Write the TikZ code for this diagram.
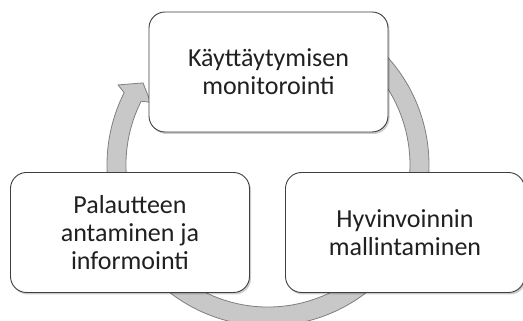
\documentclass[tikz,border=0pt]{standalone}
\usepackage{fontspec}
\setmainfont{Carlito}
\usetikzlibrary{shadows}
\definecolor{ringfill}{HTML}{C8C8C8}
\definecolor{ringline}{HTML}{7F7F7F}
\definecolor{boxline}{HTML}{3F3F3F}
\definecolor{labeltext}{HTML}{202020}
\begin{document}
\begin{tikzpicture}[x=1pt,y=1pt,
  stagebox/.style={draw=boxline, line width=0.9pt, fill=white, rounded corners=16pt,
    minimum width=239pt, minimum height=120pt, align=center, inner sep=0pt,
    text=labeltext, font=\fontsize{26}{28}\selectfont,
    drop shadow={shadow xshift=1.5pt, shadow yshift=-2pt, opacity=0.2, fill=black}},
  ring/.style={fill=ringfill, draw=ringline, line width=0.8pt, line join=miter}]
\useasboundingbox (0,0) rectangle (523,321);

% circular arrow running clockwise behind the three stages
\begin{scope}[shift={(268,156)}]
  \path[ring]
    (50:161) arc[start angle=50, end angle=-206.7, radius=161]
    -- (151.9:170) -- (146.7:149.5) -- (151.9:133) -- (153.3:142)
    arc[start angle=-206.7, end angle=50, radius=142] -- cycle;
\end{scope}

% the three stages
\node[stagebox] (monitor) at (268.5,249) {Käyttäytymisen\\monitorointi};
\node[stagebox] (model)   at (405,88.5)  {Hyvinvoinnin\\mallintaminen};
\node[stagebox] (inform)  at (130,88.5)  {Palautteen\\antaminen ja\\informointi};
\end{tikzpicture}
\end{document}
